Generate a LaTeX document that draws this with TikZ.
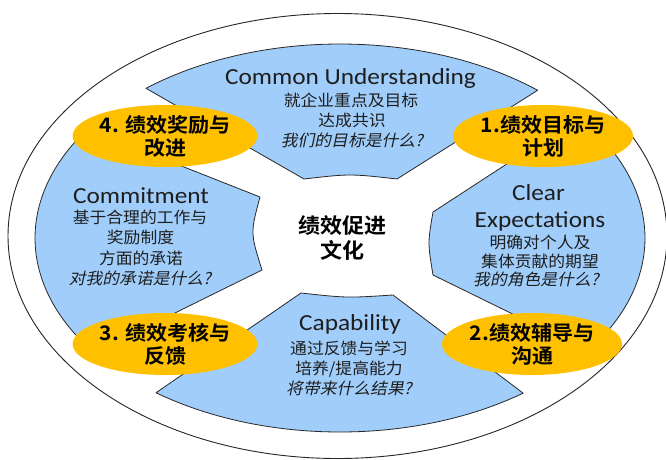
\documentclass[tikz,border=0pt]{standalone}
\usepackage{fontspec}
\setmainfont{Carlito}
\newfontfamily\cjk{Noto Sans CJK SC}
\newfontfamily\cjkit{Noto Sans CJK SC}[FakeSlant=0.2]
\newfontfamily\cjkb{Noto Sans CJK SC Bold}
\usetikzlibrary{shapes.geometric,calc}

\definecolor{segblue}{RGB}{160,205,250}
\definecolor{gold}{RGB}{255,192,0}
\definecolor{txt}{RGB}{30,30,30}
\definecolor{edge}{RGB}{40,40,40}

% horizontal widening of the lettering
\newcommand\wlat[1]{\scalebox{1.1}[1]{#1}}
\newcommand\wzh[1]{\scalebox{1.05}[1]{#1}}

\tikzset{
  seg/.style={fill=segblue, draw=edge, line width=0.8pt, line join=round},
  rim/.style={draw=black!85, line width=0.9pt},
  title/.style={font=\fontsize{23}{23}\selectfont, text=txt, anchor=base, inner sep=0pt},
  zh/.style={font=\cjk\fontsize{16}{16}\selectfont, text=txt, anchor=base, inner sep=0pt},
  zhit/.style={font=\cjkit\fontsize{16}{16}\selectfont, text=txt, anchor=base, inner sep=0pt},
  stage/.style={ellipse, fill=gold, minimum width=180pt, minimum height=62pt,
    inner sep=0pt, align=center, text=black, font=\cjkb\fontsize{20}{23}\selectfont},
  core/.style={align=center, text=black, inner sep=0pt, font=\cjkb\fontsize{21}{25}\selectfont},
  blueR/.style={x radius=305pt, y radius=194pt}
}

\begin{document}
\begin{tikzpicture}[x=1pt,y=1pt]
  \useasboundingbox (0,0) rectangle (666,459);
  \fill[white] (0,0) rectangle (666,459);
  \clip (0,0) rectangle (666,459);

  % outer rim
  \coordinate (oc) at (337.5,223);
  \draw[rim] (oc) ellipse[x radius=329.5pt, y radius=222.5pt];

  % centre of the blue ring
  \coordinate (bc) at (340,221);

  % top segment
  \filldraw[seg] (304,280) -- ($(bc)+(129.5:305pt and 194pt)$)
    arc[start angle=129.5, end angle=49.6, blueR] -- (397,280)
    .. controls (350,285.3) .. (304,280) -- cycle;
  % left segment
  \filldraw[seg] (260,262) -- ($(bc)+(145.8:305pt and 194pt)$)
    arc[start angle=145.8, end angle=216.3, blueR] -- (262,189)
    .. controls (250.3,226.2) .. (260,262) -- cycle;
  % bottom segment
  \filldraw[seg] (301,166) -- ($(bc)+(232.9:305pt and 194pt)$)
    arc[start angle=232.9, end angle=306.9, blueR] -- (393,164)
    .. controls (347,161) .. (301,166) -- cycle;
  % right segment
  \filldraw[seg] (433,184) -- ($(bc)+(-35.6:305pt and 194pt)$)
    arc[start angle=-35.6, end angle=38.5, blueR] -- (433,247)
    .. controls (427.7,216.2) .. (433,184) -- cycle;

  % stage ellipses
  \node[stage] (s4) at (165,323) {\wzh{4. 绩效奖励与}\\\wzh{改进}};
  \node[stage] (s1) at (543,323) {\wzh{1.绩效目标与}\\\wzh{计划}};
  \node[stage] (s3) at (165,115) {\wzh{3. 绩效考核与}\\\wzh{反馈}};
  \node[stage] (s2) at (532,115) {\wzh{2.绩效辅导与}\\\wzh{沟通}};

  % centre
  \node[core] (mid) at (342.5,221.5) {\wzh{绩效促进}\\\wzh{文化}};

  % top segment text
  \node[title] (cu-t) at (350.5,375) {\wlat{Common Understanding}};
  \node[zh]   (cu-1) at (351,353) {\wzh{就企业重点及目标}};
  \node[zh]   (cu-2) at (352,333) {\wzh{达成共识}};
  \node[zhit] (cu-3) at (352,313) {\wzh{我们的目标是什么?}};

  % left segment text
  \node[title] (cm-t) at (141,256) {\wlat{Commitment}};
  \node[zh]   (cm-1) at (140,236) {\wzh{基于合理的工作与}};
  \node[zh]   (cm-2) at (140.5,215.5) {\wzh{奖励制度}};
  \node[zh]   (cm-3) at (141,195) {\wzh{方面的承诺}};
  \node[zhit] (cm-4) at (140,174.5) {\wzh{对我的承诺是什么?}};

  % right segment text
  \node[title] (ce-t1) at (538.5,258.5) {\wlat{Clear}};
  \node[title] (ce-t2) at (540,232) {\wlat{Expectations}};
  \node[zh]   (ce-1) at (540,211) {\wzh{明确对个人及}};
  \node[zh]   (ce-2) at (540,192) {\wzh{集体贡献的期望}};
  \node[zhit] (ce-3) at (536,174) {\wzh{我的角色是什么?}};

  % bottom segment text
  \node[title] (cp-t) at (350,129) {\wlat{Capability}};
  \node[zh]   (cp-1) at (349,104.7) {\wzh{通过反馈与学习}};
  \node[zh]   (cp-2) at (349,84.7) {\wzh{培养/提高能力}};
  \node[zhit] (cp-3) at (349,64.7) {\wzh{将带来什么结果?}};
\end{tikzpicture}
\end{document}
